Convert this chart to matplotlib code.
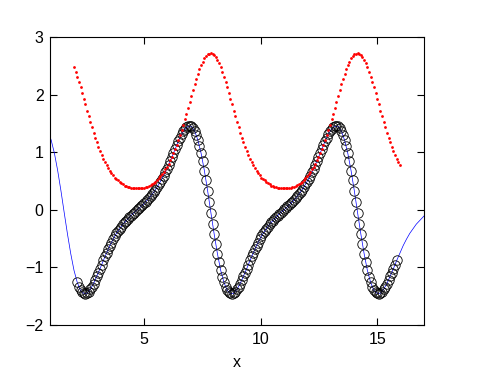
import numpy as np
import matplotlib
matplotlib.use("Agg")
import matplotlib.pyplot as plt

plt.rcParams['font.family'] = ['Liberation Sans', 'DejaVu Sans']

# red dots: 201 samples from x=2.007 to 15.970
red_x = np.linspace(2.007, 15.970, 201)
red_y = [
    2.48, 2.40, 2.31, 2.22, 2.13, 2.03, 1.93, 1.83, 1.72, 1.62, 1.53, 1.43, 1.34, 1.25, 1.17,
    1.09, 1.02, 0.95, 0.89, 0.83, 0.77, 0.72, 0.68, 0.64, 0.60, 0.56, 0.53, 0.51, 0.48, 0.46,
    0.44, 0.42, 0.41, 0.40, 0.39, 0.38, 0.37, 0.37, 0.37, 0.37, 0.37, 0.37, 0.38, 0.38, 0.39,
    0.40, 0.42, 0.43, 0.45, 0.47, 0.49, 0.52, 0.55, 0.58, 0.62, 0.66, 0.70, 0.75, 0.80, 0.86,
    0.92, 0.98, 1.05, 1.13, 1.21, 1.30, 1.38, 1.48, 1.57, 1.67, 1.77, 1.88, 1.98, 2.08, 2.18,
    2.27, 2.36, 2.44, 2.51, 2.57, 2.63, 2.67, 2.70, 2.71, 2.72, 2.71, 2.69, 2.65, 2.60, 2.54,
    2.48, 2.40, 2.31, 2.22, 2.13, 2.03, 1.93, 1.83, 1.72, 1.62, 1.53, 1.43, 1.34, 1.25, 1.17,
    1.09, 1.02, 0.95, 0.89, 0.83, 0.77, 0.72, 0.68, 0.64, 0.60, 0.56, 0.53, 0.51, 0.48, 0.46,
    0.44, 0.42, 0.41, 0.40, 0.39, 0.38, 0.37, 0.37, 0.37, 0.37, 0.37, 0.37, 0.38, 0.38, 0.39,
    0.40, 0.42, 0.43, 0.45, 0.47, 0.49, 0.52, 0.55, 0.58, 0.62, 0.66, 0.70, 0.75, 0.80, 0.86,
    0.92, 0.98, 1.05, 1.13, 1.21, 1.30, 1.38, 1.48, 1.57, 1.67, 1.77, 1.88, 1.98, 2.08, 2.18,
    2.27, 2.36, 2.44, 2.51, 2.57, 2.63, 2.67, 2.70, 2.71, 2.72, 2.71, 2.69, 2.65, 2.60, 2.54,
    2.48, 2.40, 2.31, 2.22, 2.13, 2.03, 1.93, 1.83, 1.72, 1.62, 1.53, 1.43, 1.34, 1.25, 1.17,
    1.09, 1.02, 0.95, 0.89, 0.83, 0.77,
]

# black circles: 197 samples from x=2.147 to 15.830
circ_x = np.linspace(2.147, 15.830, 197)
circ_y = [
    -1.26, -1.34, -1.40, -1.43, -1.45, -1.46, -1.45, -1.42, -1.38, -1.34, -1.28, -1.22, -1.15,
    -1.09, -1.02, -0.95, -0.88, -0.81, -0.75, -0.68, -0.62, -0.57, -0.51, -0.46, -0.41, -0.37,
    -0.33, -0.29, -0.25, -0.22, -0.19, -0.16, -0.13, -0.10, -0.07, -0.05, -0.02, 0.01, 0.03,
    0.06, 0.08, 0.11, 0.14, 0.17, 0.20, 0.24, 0.27, 0.31, 0.35, 0.39, 0.44, 0.49, 0.54, 0.59,
    0.65, 0.71, 0.78, 0.84, 0.91, 0.98, 1.05, 1.12, 1.19, 1.25, 1.31, 1.36, 1.40, 1.43, 1.45,
    1.46, 1.45, 1.42, 1.37, 1.30, 1.21, 1.11, 0.98, 0.84, 0.68, 0.51, 0.33, 0.14, -0.05, -0.24,
    -0.42, -0.60, -0.76, -0.91,
    -1.05, -1.16, -1.26, -1.34, -1.40, -1.43, -1.45, -1.46, -1.45, -1.42, -1.38, -1.34, -1.28,
    -1.22, -1.15, -1.09, -1.02, -0.95, -0.88, -0.81, -0.75, -0.68, -0.62, -0.57, -0.51, -0.46,
    -0.41, -0.37, -0.33, -0.29, -0.25, -0.22, -0.19, -0.16, -0.13, -0.10, -0.07, -0.05, -0.02,
    0.01, 0.03, 0.06, 0.08, 0.11, 0.14, 0.17, 0.20, 0.24, 0.27, 0.31, 0.35, 0.39, 0.44, 0.49,
    0.54, 0.59, 0.65, 0.71, 0.78, 0.84, 0.91, 0.98, 1.05, 1.12, 1.19, 1.25, 1.31, 1.36, 1.40,
    1.43, 1.45, 1.46, 1.45, 1.42, 1.37, 1.30, 1.21, 1.11, 0.98, 0.84, 0.68, 0.51, 0.33, 0.14,
    -0.05, -0.24, -0.42, -0.60, -0.76, -0.91,
    -1.05, -1.16, -1.26, -1.34, -1.40, -1.43, -1.45, -1.46, -1.45, -1.42, -1.38, -1.34, -1.28,
    -1.22, -1.15, -1.09, -1.02, -0.95, -0.88,
]

# blue line: 117 samples from x=0.890 to 17.087
line_x = np.linspace(0.890, 17.087, 117)
line_y = [
    1.37, 1.21, 0.98, 0.68, 0.33, -0.05, -0.42, -0.76, -1.05, -1.26, -1.40, -1.45, -1.45,
    -1.38, -1.28, -1.15, -1.02, -0.88, -0.75, -0.62, -0.51, -0.41, -0.33, -0.25, -0.19, -0.13,
    -0.07, -0.02, 0.03, 0.08, 0.14, 0.20, 0.27, 0.35, 0.44, 0.54, 0.65, 0.78, 0.91,
    1.05, 1.19, 1.31, 1.40, 1.45, 1.45,
    1.37, 1.21, 0.98, 0.68, 0.33, -0.05, -0.42, -0.76, -1.05, -1.26, -1.40, -1.45, -1.45,
    -1.38, -1.28, -1.15, -1.02, -0.88, -0.75, -0.62, -0.51, -0.41, -0.33, -0.25, -0.19, -0.13,
    -0.07, -0.02, 0.03, 0.08, 0.14, 0.20, 0.27, 0.35, 0.44, 0.54, 0.65, 0.78, 0.91,
    1.05, 1.19, 1.31, 1.40, 1.45, 1.45,
    1.37, 1.21, 0.98, 0.68, 0.33, -0.05, -0.42, -0.76, -1.05, -1.26, -1.40, -1.45, -1.45,
    -1.38, -1.28, -1.15, -1.02, -0.88, -0.75, -0.62, -0.51, -0.41, -0.33, -0.25, -0.19, -0.13,
    -0.07,
]

x_ticks = [5, 10, 15]
y_ticks = [-2, -1, 0, 1, 2, 3]

fig = plt.figure(figsize=(4.92, 3.83), dpi=100)
ax = fig.add_axes([0.1026, 0.1514, 0.7592, 0.752])

ax.plot(line_x, line_y, color=(0, 0, 1), lw=0.5)
ax.plot(circ_x, circ_y, 'o', mfc='none', mec='black', ms=6.8, mew=0.6)
ax.plot(red_x, red_y, 'o', color='red', ms=2.0, mew=0)

ax.set_xlim(1, 17)
ax.set_ylim(-2, 3)
ax.set_xticks(x_ticks)
ax.set_yticks(y_ticks)
ax.tick_params(direction='in', top=True, right=True, length=5, width=0.8,
               labelsize=11.5, pad=5)
for sp in ax.spines.values():
    sp.set_linewidth(0.8)
ax.set_xlabel('x', fontsize=11.5, labelpad=6)

fig.savefig('out.png', dpi=100)
